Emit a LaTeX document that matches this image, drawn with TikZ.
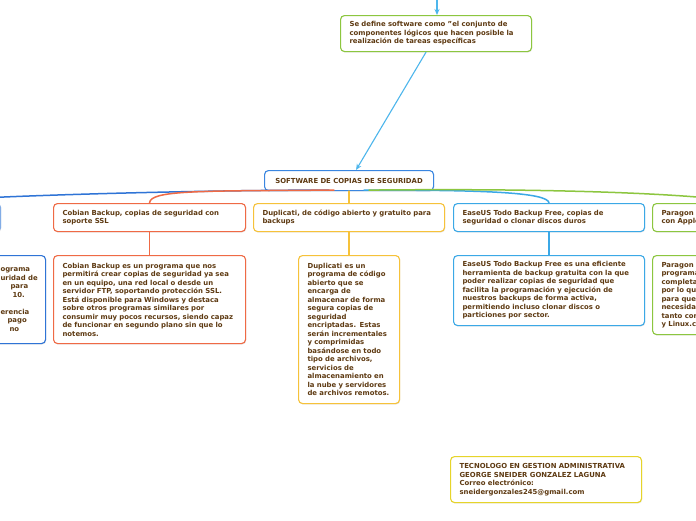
\documentclass[tikz,border=0pt]{standalone}
\usepackage{fontspec}
\setmainfont{DejaVu Sans}
\usetikzlibrary{arrows.meta,shadows,calc}
\definecolor{txt}{HTML}{5E3A12}
\definecolor{cgreen}{HTML}{8CC63F}
\definecolor{cblue}{HTML}{3A86E0}
\definecolor{cdblue}{HTML}{2F74D6}
\definecolor{corange}{HTML}{EF6A45}
\definecolor{cyellow}{HTML}{F6C23A}
\definecolor{clblue}{HTML}{3BA8E6}
\definecolor{cfoot}{HTML}{E6D42A}
\definecolor{carrow}{HTML}{4DB6EC}
\tikzset{
  mbox/.style={draw, rounded corners=4pt, fill=white, line width=1.1pt, text=txt,
    font=\fontsize{6.9pt}{8.5pt}\selectfont\bfseries, align=left, inner xsep=9pt,
    inner ysep=3pt, anchor=north west,
    drop shadow={shadow xshift=0.6pt, shadow yshift=-0.9pt, opacity=0.25, fill=gray}},
  link/.style={line width=1.5pt, line cap=round},
  arr/.style={carrow, line width=1.1pt, -{Stealth[length=6pt,width=5pt]}}
}
\begin{document}
\begin{tikzpicture}[x=1pt,y=-1pt]
\useasboundingbox (0,0) rectangle (696,520);
\clip (0,0) rectangle (696,520);
\fill[white] (0,0) rectangle (696,520);

% nodes
\node[mbox, draw=cgreen, text width=173pt, minimum height=36pt] (top) at (340,15)
  {Se define software como "el conjunto de\\componentes lógicos que hacen posible la\\realización de tareas específicas};
\node[mbox, draw=cblue, align=center, text width=151pt, inner xsep=9pt, minimum height=20pt] (root) at (264,170)
  {SOFTWARE DE COPIAS DE SEGURIDAD};

\node[mbox, draw=cdblue!60, text width=170pt, minimum height=28pt] (lefttitle) at (-188,203) {};
\node[mbox, draw=corange, text width=174pt, minimum height=28pt] (cob) at (53,203)
  {Cobian Backup, copias de seguridad con\\soporte SSL};
\node[mbox, draw=cyellow, text width=173pt, minimum height=28pt] (dup) at (253,203)
  {Duplicati, de código abierto y gratuito para\\backups};
\node[mbox, draw=clblue, text width=173pt, minimum height=28pt] (ease) at (453,203)
  {EaseUS Todo Backup Free, copias de\\seguridad o clonar discos duros};
\node[mbox, draw=cgreen, text width=173pt, minimum height=28pt] (para) at (652,203)
  {Paragon\\con Apple};

\node[mbox, draw=cdblue, text width=191pt, minimum height=88pt, inner xsep=0pt, align=left] (leftdet) at (-146,255)
  {\hspace*{146pt}ograma\\\hspace*{146pt}uridad de\\\hspace*{156pt}para\\\hspace*{158pt}10.\\[8.5pt]\hspace*{146pt}erencia\\\hspace*{153pt}pago\\\hspace*{155pt}no\\[14pt]};
\node[mbox, draw=corange, text width=174pt, minimum height=88pt] (cobd) at (53,255)
  {Cobian Backup es un programa que nos\\permitirá crear copias de seguridad ya sea\\en un equipo, una red local o desde un\\servidor FTP, soportando protección SSL.\\Está disponible para Windows y destaca\\sobre otros programas similares por\\consumir muy pocos recursos, siendo capaz\\de funcionar en segundo plano sin que lo\\notemos.};
\node[mbox, draw=cyellow, text width=83pt, minimum height=148pt] (dupd) at (298,255)
  {Duplicati es un\\programa de código\\abierto que se\\encarga de\\almacenar de forma\\segura copias de\\seguridad\\encriptadas. Estas\\serán incrementales\\y comprimidas\\basándose en todo\\tipo de archivos,\\servicios de\\almacenamiento en\\la nube y servidores\\de archivos remotos.};
\node[mbox, draw=clblue, text width=173pt, minimum height=70pt] (eased) at (453,255)
  {EaseUS Todo Backup Free es una eficiente\\herramienta de backup gratuita con la que\\poder realizar copias de seguridad que\\facilita la programación y ejecución de\\nuestros backups de forma activa,\\permitiendo incluso clonar discos o\\particiones por sector.};
\node[mbox, draw=cgreen, text width=173pt, minimum height=79pt] (parad) at (652,255)
  {Paragon l\\programa\\completa\\por lo que\\para que\\necesidad\\tanto con\\y Linux.c};

\node[mbox, draw=cfoot, text width=173pt, minimum height=46pt] (foot) at (450,456)
  {TECNOLOGO EN GESTION ADMINISTRATIVA\\GEORGE SNEIDER GONZALEZ LAGUNA\\Correo electrónico:\\sneidergonzales245@gmail.com};

% arrows
\coordinate (above) at (437,-4);
\draw[arr] (above) -- (above |- top.north);
\draw[arr] ($(top.south)+(-10,0)$) -- ($(root.north)+(7,0)$);

% links from root
\draw[link, cdblue] ($(root.south)+(-20,-1)$) .. controls (200,190) and (-30,196) .. (lefttitle.north);
\draw[link, corange] ($(root.south)+(-15,-1)$) .. controls (200,191) and (150,190) .. (cob.north);
\draw[link, cyellow] (root.south) -- (dup.north);
\draw[link, clblue] ($(root.south)+(15,-1)$) .. controls (480,190) and (548,192) .. (ease.north);
\draw[link, cgreen] ($(root.south)+(20,-1)$) .. controls (560,188) and (700,194) .. (para.north);

% links to details
\draw[link, corange] (cob.south) -- (cobd.north);
\draw[link, cyellow] (dup.south) -- (dupd.north);
\draw[link, clblue] (ease.south) -- (eased.north);
\end{tikzpicture}
\end{document}
